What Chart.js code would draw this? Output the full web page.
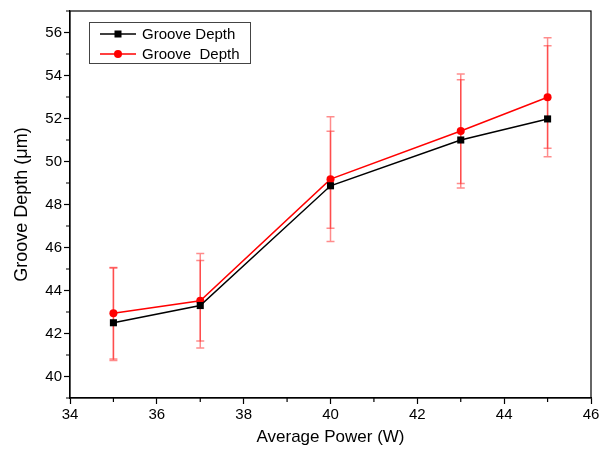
<!DOCTYPE html>
<html lang="en">
<head>
  <meta charset="UTF-8">
  <title>Groove Depth vs Average Power</title>
  <script src="https://cdn.jsdelivr.net/npm/chart.js"></script>
  <style>
    html, body { margin: 0; padding: 0; background: #fff; }
    #wrap { width: 609px; height: 454px; }
  </style>
</head>
<body>
  <div id="wrap"><canvas id="grooveChart"></canvas></div>

  <script>
    // data
    const power = [35, 37, 40, 43, 45];
    const depthBlack = [42.5, 43.3, 48.87, 51.0, 51.98];
    const blackErrUp = [2.55, 2.1, 2.54, 2.8, 3.4];
    const blackErrDown = [1.75, 1.65, 1.97, 2.02, 1.36];
    const depthRed = [42.94, 43.52, 49.18, 51.42, 52.99];
    const redErrUp = [2.13, 2.2, 2.9, 2.65, 2.77];
    const redErrDown = [2.13, 2.2, 2.9, 2.65, 2.77];
    const seriesNames = ['Groove Depth', 'Groove  Depth'];
    const xTicks = [34, 36, 38, 40, 42, 44, 46];
    const yTicks = [40, 42, 44, 46, 48, 50, 52, 54, 56];

    const FONT = "'Liberation Sans', Arial, sans-serif";
    const errColor = 'rgba(255, 0, 0, 0.45)';

    const errBars = [
      { up: blackErrUp, down: blackErrDown, y: depthBlack },
      { up: redErrUp, down: redErrDown, y: depthRed }
    ];

    // error bars, minor ticks, frame and the legend box
    const extras = {
      id: 'extras',
      beforeDatasetsDraw(chart) {
        const ctx = chart.ctx;
        const xs = chart.scales.x, ys = chart.scales.y;
        ctx.save();
        ctx.strokeStyle = errColor;
        ctx.lineWidth = 1.5;
        errBars.forEach(s => {
          power.forEach((p, i) => {
            const px = xs.getPixelForValue(p);
            const top = ys.getPixelForValue(s.y[i] + s.up[i]);
            const bot = ys.getPixelForValue(s.y[i] - s.down[i]);
            ctx.beginPath();
            ctx.moveTo(px, top); ctx.lineTo(px, bot);
            ctx.moveTo(px - 4, top); ctx.lineTo(px + 4, top);
            ctx.moveTo(px - 4, bot); ctx.lineTo(px + 4, bot);
            ctx.stroke();
          });
        });
        ctx.restore();
      },
      afterDraw(chart) {
        const ctx = chart.ctx;
        const a = chart.chartArea;
        const xs = chart.scales.x, ys = chart.scales.y;
        ctx.save();
        ctx.strokeStyle = '#000';
        ctx.lineWidth = 1.2;
        ctx.strokeRect(a.left, a.top, a.right - a.left, a.bottom - a.top);

        // minor ticks
        ctx.beginPath();
        for (let v = 35; v <= 45; v += 2) {
          const px = xs.getPixelForValue(v);
          ctx.moveTo(px, a.bottom); ctx.lineTo(px, a.bottom + 4);
        }
        for (let v = 39; v <= 57; v += 2) {
          const py = ys.getPixelForValue(v);
          ctx.moveTo(a.left, py); ctx.lineTo(a.left - 4, py);
        }
        ctx.stroke();

        // legend
        const lx = 89.5, ly = 22.5, lw = 161, lh = 41;
        ctx.lineWidth = 1;
        ctx.strokeStyle = '#444';
        ctx.strokeRect(lx, ly, lw, lh);
        ctx.font = '15px ' + FONT;
        ctx.textBaseline = 'middle';
        chart.data.datasets.forEach((ds, i) => {
          const rowY = 34 + i * 20;
          ctx.strokeStyle = ds.borderColor;
          ctx.lineWidth = 1.5;
          ctx.beginPath();
          ctx.moveTo(100, rowY); ctx.lineTo(136, rowY);
          ctx.stroke();
          ctx.fillStyle = ds.backgroundColor;
          if (ds.pointStyle === 'rect') {
            ctx.fillRect(118 - 3.5, rowY - 3.5, 7, 7);
          } else {
            ctx.beginPath();
            ctx.arc(118, rowY, 4, 0, Math.PI * 2);
            ctx.fill();
          }
          ctx.fillStyle = '#000';
          ctx.fillText(ds.label, 142, rowY + 1);
        });
        ctx.restore();
      }
    };

    const ctx = document.getElementById('grooveChart').getContext('2d');
    new Chart(ctx, {
      type: 'scatter',
      data: {
        datasets: [
          {
            label: seriesNames[0],
            data: power.map((p, i) => ({ x: p, y: depthBlack[i] })),
            showLine: true,
            borderColor: '#000',
            backgroundColor: '#000',
            borderWidth: 1.5,
            pointStyle: 'rect',
            pointRadius: 5,
            pointBorderWidth: 0
          },
          {
            label: seriesNames[1],
            data: power.map((p, i) => ({ x: p, y: depthRed[i] })),
            showLine: true,
            borderColor: '#ff0000',
            backgroundColor: '#ff0000',
            borderWidth: 1.5,
            pointStyle: 'circle',
            pointRadius: 4,
            pointBorderWidth: 0
          }
        ]
      },
      options: {
        responsive: true,
        maintainAspectRatio: false,
        animation: false,
        layout: { padding: { top: 9, right: 18, left: 0, bottom: 0 } },
        plugins: {
          legend: { display: false },
          tooltip: { enabled: false }
        },
        scales: {
          x: {
            type: 'linear',
            min: 34, max: 46,
            afterBuildTicks: s => { s.ticks = xTicks.map(v => ({ value: v })); },
            afterFit: s => { s.height = 56; },
            grid: { drawOnChartArea: false, tickLength: 6, color: '#000', tickWidth: 1.2 },
            border: { color: '#000', width: 1.2 },
            ticks: { color: '#000', font: { family: FONT, size: 15 }, padding: 2, maxRotation: 0 },
            title: {
              display: true, text: 'Average Power (W)', color: '#000',
              font: { family: FONT, size: 17 }, padding: { top: 0, bottom: 6 }
            }
          },
          y: {
            min: 39, max: 57,
            afterBuildTicks: s => { s.ticks = yTicks.map(v => ({ value: v })); },
            afterFit: s => { s.width = 70; },
            grid: { drawOnChartArea: false, tickLength: 6, color: '#000', tickWidth: 1.2 },
            border: { color: '#000', width: 1.2 },
            ticks: { color: '#000', font: { family: FONT, size: 15 }, padding: 2 },
            title: {
              display: true, text: 'Groove Depth (μm)', color: '#000',
              font: { family: FONT, size: 18 }, padding: { top: 11, bottom: 0 }
            }
          }
        }
      },
      plugins: [extras]
    });
  </script>
</body>
</html>
